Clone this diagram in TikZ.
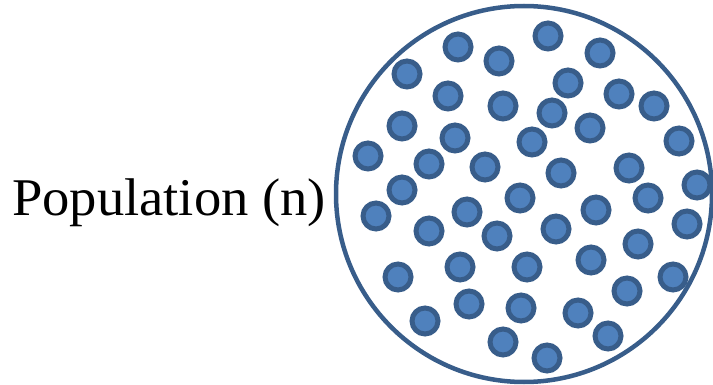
\documentclass[tikz,border=0pt]{standalone}
\usepackage{fontspec}
\setmainfont{Liberation Serif}
\definecolor{dotfill}{HTML}{4F81BD}
\definecolor{dotline}{HTML}{385D8A}
\tikzset{
  unit/.style={circle, draw=dotline, fill=dotfill, line width=5pt, inner sep=0pt, minimum size=26pt},
}
\begin{document}
\begin{tikzpicture}[x=1pt,y=-1pt]
\useasboundingbox (0,0) rectangle (713,385);
\node[circle, draw=dotline, line width=4.5pt, inner sep=0pt, minimum size=376pt] (pop) at (524,194) {};
\node[anchor=base, font=\fontsize{53}{60}\selectfont, inner sep=0pt, xscale=1.03] (label) at (169,215) {Population (n)};
\node[unit] (u1) at (548,36) {};
\node[unit] (u2) at (458,47) {};
\node[unit] (u3) at (499,61) {};
\node[unit] (u4) at (600,53) {};
\node[unit] (u5) at (407,74) {};
\node[unit] (u6) at (568,83) {};
\node[unit] (u7) at (448,96) {};
\node[unit] (u8) at (503,106) {};
\node[unit] (u9) at (619,94) {};
\node[unit] (u10) at (654,106) {};
\node[unit] (u11) at (552,113) {};
\node[unit] (u12) at (402,126) {};
\node[unit] (u13) at (590,128) {};
\node[unit] (u14) at (455,138) {};
\node[unit] (u15) at (679,141) {};
\node[unit] (u16) at (532,142) {};
\node[unit] (u17) at (368,156) {};
\node[unit] (u18) at (429,164) {};
\node[unit] (u19) at (485,167) {};
\node[unit] (u20) at (561,173) {};
\node[unit] (u21) at (629,168) {};
\node[unit] (u22) at (697,185) {};
\node[unit] (u23) at (402,190) {};
\node[unit] (u24) at (376,216) {};
\node[unit] (u25) at (429,231) {};
\node[unit] (u26) at (467,212) {};
\node[unit] (u27) at (497,236) {};
\node[unit] (u28) at (520,198) {};
\node[unit] (u29) at (556,229) {};
\node[unit] (u30) at (596,210) {};
\node[unit] (u31) at (648,198) {};
\node[unit] (u32) at (687,224) {};
\node[unit] (u33) at (638,244) {};
\node[unit] (u34) at (591,260) {};
\node[unit] (u35) at (527,267) {};
\node[unit] (u36) at (460,267) {};
\node[unit] (u37) at (398,277) {};
\node[unit] (u38) at (673,277) {};
\node[unit] (u39) at (627,291) {};
\node[unit] (u40) at (469,304) {};
\node[unit] (u41) at (521,308) {};
\node[unit] (u42) at (578,313) {};
\node[unit] (u43) at (425,321) {};
\node[unit] (u44) at (608,336) {};
\node[unit] (u45) at (503,342) {};
\node[unit] (u46) at (547,358) {};
\end{tikzpicture}
\end{document}
